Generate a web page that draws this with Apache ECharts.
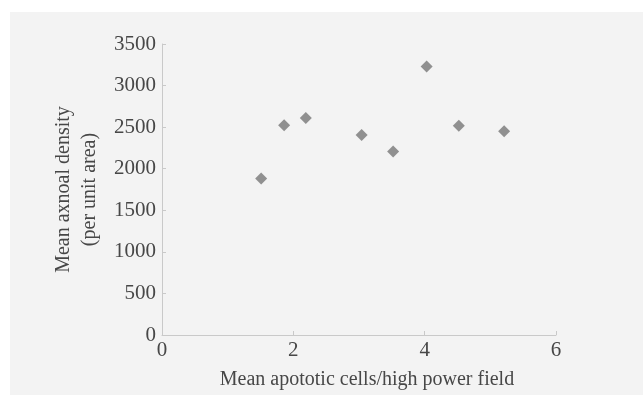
<!DOCTYPE html>
<html><head><meta charset="utf-8">
<script src="https://cdn.jsdelivr.net/npm/echarts@6/dist/echarts.min.js"></script>
<style>html,body{margin:0;padding:0;background:#fff;}#c{width:643px;height:395px;}</style>
</head><body><div id="c"></div>
<script>
var apoptoticCells = [1.51, 1.86, 2.19, 3.04, 3.52, 4.03, 4.52, 5.21];
var axonalDensity = [1881, 2524, 2611, 2405, 2206, 3230, 2516, 2452];
var xTicks = [0, 2, 4, 6];
var yTicks = [0, 500, 1000, 1500, 2000, 2500, 3000, 3500];
var xTitle = 'Mean apototic cells/high power field';
var yTitle = 'Mean axnoal density\n(per unit area)';

var pts = apoptoticCells.map(function(x, i){ return [x, axonalDensity[i]]; });
var font = 'Liberation Serif';
var txt = '#474747';
var chart = echarts.init(document.getElementById('c'), null, {renderer:'canvas'});
chart.setOption({
  animation:false,
  backgroundColor:'#ffffff',
  graphic:[{type:'rect', z:-10, shape:{x:10,y:12,width:633,height:383}, style:{fill:'#f3f3f3'}}],
  grid:{left:162, right:87, top:44, bottom:57, containLabel:false},
  xAxis:{type:'value', min:xTicks[0], max:xTicks[xTicks.length-1], interval:2,
    name:xTitle, nameLocation:'middle', nameGap:35,
    nameTextStyle:{fontFamily:font, fontSize:20, color:txt, padding:[0,0,0,16]},
    axisLine:{show:true, lineStyle:{color:'#c9c9c9', width:1}},
    axisTick:{show:true, inside:true, length:4, lineStyle:{color:'#c9c9c9'}},
    axisLabel:{fontFamily:font, fontSize:21, color:txt, margin:5,
      formatter:function(v){ return String(v); }},
    splitLine:{show:false}},
  yAxis:{type:'value', min:yTicks[0], max:yTicks[yTicks.length-1], interval:500,
    name:yTitle, nameLocation:'middle', nameGap:54, nameRotate:90,
    nameTextStyle:{fontFamily:font, fontSize:20, color:txt, lineHeight:26},
    axisLine:{show:true, lineStyle:{color:'#c9c9c9', width:1}},
    axisTick:{show:true, inside:true, length:4, lineStyle:{color:'#c9c9c9'}},
    axisLabel:{fontFamily:font, fontSize:21, color:txt, margin:6,
      formatter:function(v){ return String(v); }},
    splitLine:{show:false}},
  series:[{type:'scatter', data:pts, symbol:'diamond', symbolSize:12,
    itemStyle:{color:'#777777'}}]
});
</script></body></html>
